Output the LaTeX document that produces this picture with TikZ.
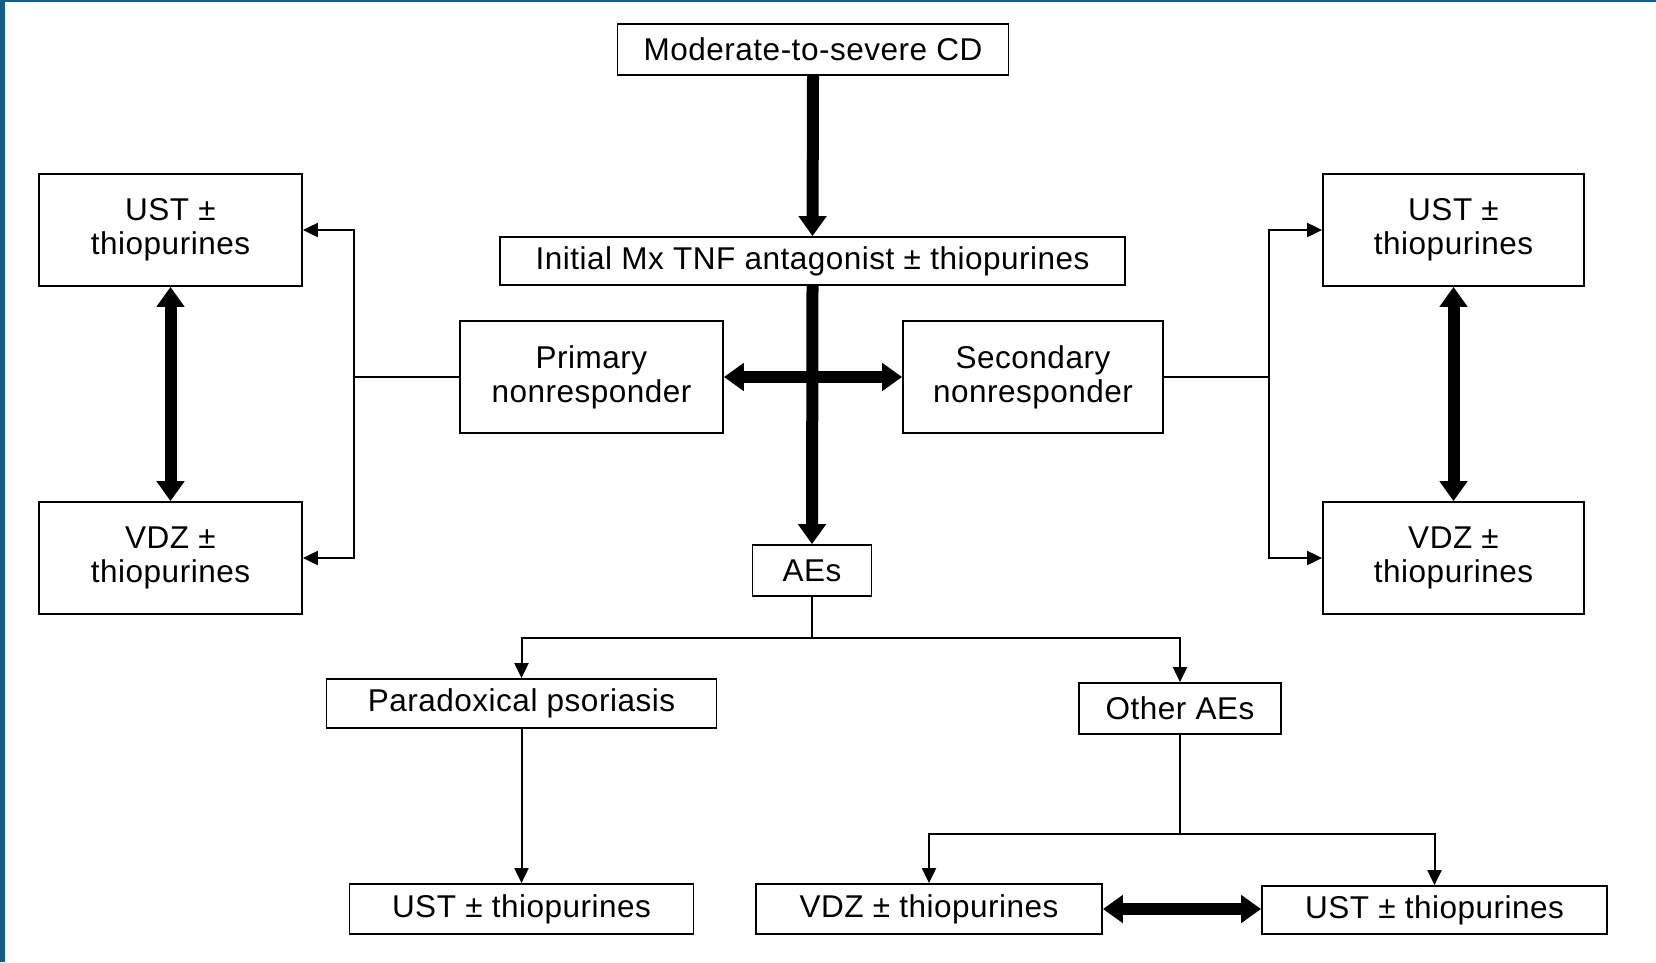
\documentclass[tikz,border=0pt]{standalone}
\usepackage{fontspec}
\setmainfont{Liberation Sans}[LetterSpace=1.6]
\usetikzlibrary{arrows.meta}
\definecolor{borderblue}{RGB}{22,94,138}
\begin{document}
\begin{tikzpicture}[x=1pt,y=-1pt,
  box/.style={draw=black, line width=1.8pt, inner sep=0pt, align=center,
    font=\fontsize{31.5}{34}\selectfont},
  thin/.style={line width=2pt},
  thinarrow/.style={line width=2pt, -{Triangle[length=15pt,width=14pt]}},
  bigarrow/.style={line width=12pt, -{Triangle[length=20pt,width=27pt]}},
  bigdouble/.style={line width=12pt, {Triangle[length=20pt,width=27pt]}-{Triangle[length=20pt,width=27pt]}}]
\useasboundingbox (0,0) rectangle (1656,962);
\fill[white] (0,0) rectangle (1656,962);
\fill[borderblue] (0,0) rectangle (5,962);
\fill[borderblue] (0,0) rectangle (1656,2);

\node[box, minimum width=391pt, minimum height=51pt] (cd) at (813,49.5) {Moderate-to-severe CD};
\node[box, minimum width=625pt, minimum height=48pt] (init) at (812.5,261) {Initial Mx TNF antagonist \textpm{} thiopurines};
\node[box, minimum width=263pt, minimum height=112pt] (prim) at (591.5,377) {Primary\\nonresponder};
\node[box, minimum width=260pt, minimum height=112pt] (sec) at (1033,377) {Secondary\\nonresponder};
\node[box, minimum width=263pt, minimum height=112pt] (lust) at (170.5,230) {UST \textpm\\thiopurines};
\node[box, minimum width=263pt, minimum height=112pt] (lvdz) at (170.5,558) {VDZ \textpm\\thiopurines};
\node[box, minimum width=261pt, minimum height=112pt] (rust) at (1453.5,230) {UST \textpm\\thiopurines};
\node[box, minimum width=261pt, minimum height=112pt] (rvdz) at (1453.5,558) {VDZ \textpm\\thiopurines};
\node[box, minimum width=119pt, minimum height=51pt] (ae) at (812,570.5) {AEs};
\node[box, minimum width=390pt, minimum height=49pt] (para) at (521.5,703.5) {Paradoxical psoriasis};
\node[box, minimum width=202pt, minimum height=51pt] (oth) at (1180,708.5) {Other AEs};
\node[box, minimum width=344pt, minimum height=50pt] (ustbl) at (521.5,909) {UST \textpm{} thiopurines};
\node[box, minimum width=346pt, minimum height=50pt] (vdzb) at (929,909) {VDZ \textpm{} thiopurines};
\node[box, minimum width=345pt, minimum height=48pt] (ustbr) at (1434.5,910) {UST \textpm{} thiopurines};

% central thick arrows
\draw[bigarrow] (cd.south) -- (init.north);
\draw[bigarrow] (init.south) -- (ae.north);
\draw[bigdouble] (prim.east) -- (sec.east -| sec.west);

% left branch
\coordinate (lj) at (354,377);
\draw[thin] (prim.west) -- (lj);
\draw[thinarrow] (lj) |- (lust.east);
\draw[thinarrow] (lj) |- (lvdz.east);
\draw[bigdouble] (lust.south) -- (lvdz.north);

% right branch
\coordinate (rj) at (1269,377);
\draw[thin] (sec.east) -- (rj);
\draw[thinarrow] (rj) |- (rust.west);
\draw[thinarrow] (rj) |- (rvdz.west);
\draw[bigdouble] (rust.south) -- (rvdz.north);

% AEs branch
\coordinate (aej) at (812,638);
\draw[thin] (ae.south) -- (aej);
\draw[thinarrow] (aej) -| (para.north);
\draw[thinarrow] (aej) -| (oth.north);
\draw[thinarrow] (para.south) -- (ustbl.north);

\coordinate (oj) at (1180,834);
\draw[thin] (oth.south) -- (oj);
\draw[thinarrow] (oj) -| (vdzb.north);
\draw[thinarrow] (oj) -| (ustbr.north);
\draw[bigdouble] (vdzb.east) -- (vdzb.east -| ustbr.west);
\end{tikzpicture}
\end{document}
